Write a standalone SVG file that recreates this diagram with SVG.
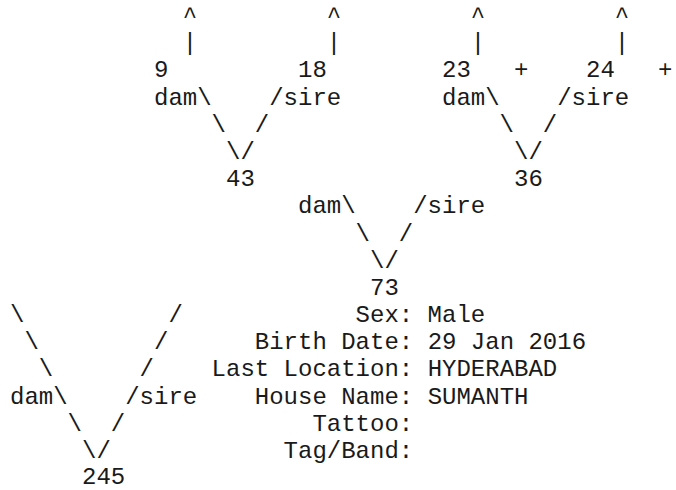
<svg xmlns="http://www.w3.org/2000/svg" width="676" height="490" viewBox="0 0 676 490">
<style>
text { font-family: "Liberation Mono", "Courier New", monospace; font-size: 24px; fill: #1a1a1a; }
</style>
<rect width="676" height="490" fill="#fff"/>
<g id="connectors">
  <text x="182.8" y="23">^</text><text x="326.8" y="23">^</text><text x="470.8" y="23">^</text><text x="614.8" y="23">^</text>
  <text x="182.8" y="50.2">|</text><text x="326.8" y="50.2">|</text><text x="470.8" y="50.2">|</text><text x="614.8" y="50.2">|</text>
  <text x="154" y="104.5">dam\</text><text x="269.2" y="104.5">/sire</text>
  <text x="442" y="104.5">dam\</text><text x="557.2" y="104.5">/sire</text>
  <text x="211.6" y="131.7">\</text><text x="254.8" y="131.7">/</text>
  <text x="499.6" y="131.7">\</text><text x="542.8" y="131.7">/</text>
  <text x="226" y="158.9">\/</text><text x="514" y="158.9">\/</text>
  <text x="298" y="213.3">dam\</text><text x="413.2" y="213.3">/sire</text>
  <text x="355.6" y="240.5">\</text><text x="398.8" y="240.5">/</text>
  <text x="370" y="267.6">\/</text>
  <text x="10" y="322">\</text><text x="168.4" y="322">/</text>
  <text x="24.4" y="349.2">\</text><text x="154" y="349.2">/</text>
  <text x="38.8" y="376.4">\</text><text x="139.6" y="376.4">/</text>
  <text x="10" y="403.5">dam\</text><text x="125.2" y="403.5">/sire</text>
  <text x="67.6" y="430.7">\</text><text x="110.8" y="430.7">/</text>
  <text x="82" y="457.9">\/</text>
</g>
<g id="node-9"><text x="154" y="77.4">9</text></g>
<g id="node-18"><text x="298" y="77.4">18</text></g>
<g id="node-23"><text x="442" y="77.4">23</text><text x="514" y="77.4">+</text></g>
<g id="node-24"><text x="586" y="77.4">24</text><text x="658" y="77.4">+</text></g>
<g id="node-43"><text x="226" y="186.1">43</text></g>
<g id="node-36"><text x="514" y="186.1">36</text></g>
<g id="node-73">
  <text x="370" y="294.8">73</text>
  <text x="355.6" y="322">Sex: Male</text>
  <text x="254.8" y="349.2">Birth Date: 29 Jan 2016</text>
  <text x="211.6" y="376.4">Last Location: HYDERABAD</text>
  <text x="254.8" y="403.5">House Name: SUMANTH</text>
  <text x="312.4" y="430.7">Tattoo:</text>
  <text x="283.6" y="457.9">Tag/Band:</text>
</g>
<g id="node-245"><text x="82" y="484">245</text></g>
</svg>
